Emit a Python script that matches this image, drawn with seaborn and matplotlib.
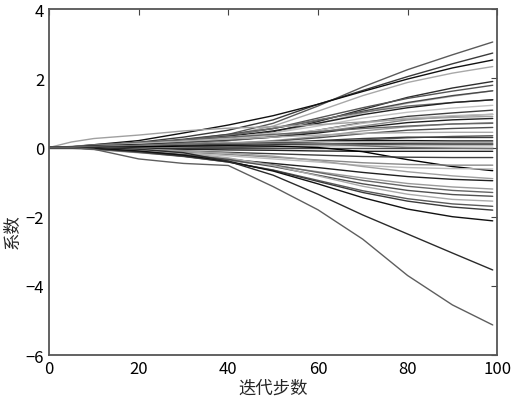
import numpy as np
import pandas as pd
import matplotlib
matplotlib.use("Agg")
import matplotlib.pyplot as plt
import seaborn as sns

steps = [0, 5, 10, 20, 30, 40, 50, 60, 70, 80, 90, 99]

# coefficients that grow positive
rising_paths = [
    [0, 0, 0.02, 0.10, 0.22, 0.38, 0.70, 1.20, 1.75, 2.25, 2.68, 3.05],
    [0, 0, 0.03, 0.15, 0.30, 0.50, 0.80, 1.25, 1.65, 2.05, 2.42, 2.73],
    [0, 0.02, 0.08, 0.20, 0.42, 0.65, 0.92, 1.25, 1.62, 1.98, 2.30, 2.53],
    [0, 0, 0.02, 0.10, 0.20, 0.35, 0.62, 1.05, 1.50, 1.88, 2.15, 2.34],
    [0, 0, 0, 0.05, 0.12, 0.25, 0.45, 0.75, 1.10, 1.45, 1.72, 1.91],
    [0, 0.01, 0.05, 0.12, 0.22, 0.35, 0.55, 0.85, 1.15, 1.42, 1.63, 1.80],
    [0, 0, 0.02, 0.08, 0.15, 0.25, 0.42, 0.70, 1.00, 1.28, 1.48, 1.64],
    [0, 0.01, 0.04, 0.12, 0.24, 0.38, 0.55, 0.78, 1.05, 1.30, 1.50, 1.64],
    [0, 0, 0.03, 0.10, 0.20, 0.35, 0.55, 0.80, 1.02, 1.20, 1.30, 1.38],
    [0, 0, 0.03, 0.10, 0.20, 0.32, 0.48, 0.70, 0.95, 1.15, 1.30, 1.38],
    [0, 0.02, 0.06, 0.12, 0.20, 0.30, 0.42, 0.62, 0.85, 1.02, 1.14, 1.22],
    [0, 0, 0.01, 0.05, 0.10, 0.20, 0.32, 0.50, 0.72, 0.90, 1.00, 1.08],
    [0, 0, 0.02, 0.06, 0.12, 0.20, 0.30, 0.45, 0.62, 0.80, 0.90, 0.96],
    [0, 0, 0.02, 0.08, 0.16, 0.25, 0.35, 0.50, 0.70, 0.85, 0.92, 0.96],
    [0, 0.16, 0.26, 0.36, 0.48, 0.56, 0.60, 0.66, 0.74, 0.82, 0.87, 0.90],
    [0, 0.01, 0.04, 0.10, 0.16, 0.22, 0.30, 0.42, 0.58, 0.72, 0.80, 0.84],
    [0, 0, 0.02, 0.05, 0.08, 0.12, 0.20, 0.32, 0.48, 0.60, 0.68, 0.72],
    [0, 0.03, 0.08, 0.15, 0.22, 0.30, 0.38, 0.46, 0.55, 0.62, 0.68, 0.70],
    [0, 0, 0.01, 0.04, 0.08, 0.12, 0.18, 0.28, 0.40, 0.50, 0.55, 0.58],
    [0, 0.02, 0.05, 0.12, 0.18, 0.24, 0.30, 0.36, 0.41, 0.43, 0.44, 0.44],
]

# coefficients that stay close to zero
flat_paths = [
    [0, 0, 0.01, 0.03, 0.05, 0.08, 0.12, 0.16, 0.22, 0.28, 0.32, 0.34],
    [0, 0, 0.01, 0.03, 0.06, 0.10, 0.14, 0.20, 0.26, 0.30, 0.29, 0.29],
    [0, 0.02, 0.05, 0.08, 0.10, 0.12, 0.15, 0.18, 0.20, 0.20, 0.19, 0.19],
    [0, 0.01, 0.03, 0.06, 0.10, 0.14, 0.17, 0.17, 0.16, 0.15, 0.15, 0.15],
    [0, 0, 0, 0.02, 0.04, 0.06, 0.08, 0.10, 0.11, 0.11, 0.10, 0.10],
    [0, -0.01, -0.02, -0.02, -0.01, 0.00, 0.02, 0.05, 0.08, 0.10, 0.10, 0.10],
    [0, 0, 0.01, 0.02, 0.03, 0.04, 0.05, 0.05, 0.05, 0.05, 0.05, 0.05],
    [0, 0, 0, 0, 0, 0, 0, 0, 0, 0, 0, 0],
    [0, 0, 0.02, 0.06, 0.10, 0.12, 0.12, 0.10, 0.05, 0.00, -0.02, -0.03],
    [0, 0, -0.01, -0.03, -0.05, -0.07, -0.08, -0.10, -0.11, -0.11, -0.11, -0.11],
    [0, 0, 0, 0.02, 0.04, 0.05, 0.04, 0.00, -0.12, -0.35, -0.55, -0.67],
]

# coefficients that grow negative
falling_paths = [
    [0, -0.01, -0.03, -0.06, -0.10, -0.14, -0.18, -0.22, -0.26, -0.28, -0.29, -0.29],
    [0, 0, -0.02, -0.08, -0.14, -0.20, -0.28, -0.36, -0.44, -0.49, -0.51, -0.51],
    [0, -0.02, -0.05, -0.10, -0.16, -0.24, -0.33, -0.42, -0.52, -0.58, -0.61, -0.62],
    [0, 0, 0, -0.04, -0.10, -0.16, -0.25, -0.38, -0.55, -0.70, -0.82, -0.90],
    [0, 0, -0.03, -0.12, -0.22, -0.34, -0.46, -0.58, -0.72, -0.84, -0.92, -0.96],
    [0, -0.02, -0.06, -0.15, -0.25, -0.38, -0.52, -0.70, -0.88, -1.04, -1.14, -1.20],
    [0, 0, -0.02, -0.10, -0.20, -0.32, -0.50, -0.72, -0.95, -1.12, -1.24, -1.30],
    [0, -0.01, -0.04, -0.12, -0.22, -0.35, -0.55, -0.80, -1.05, -1.24, -1.36, -1.41],
    [0, 0, -0.02, -0.08, -0.16, -0.30, -0.52, -0.82, -1.12, -1.35, -1.50, -1.55],
    [0, -0.01, -0.04, -0.14, -0.26, -0.42, -0.65, -0.95, -1.25, -1.48, -1.63, -1.70],
    [0, 0, -0.03, -0.12, -0.25, -0.42, -0.66, -0.98, -1.30, -1.55, -1.72, -1.81],
    [0, 0, -0.02, -0.10, -0.22, -0.40, -0.68, -1.05, -1.45, -1.78, -2.00, -2.12],
    [0, 0, 0, -0.05, -0.15, -0.40, -0.80, -1.35, -1.95, -2.50, -3.05, -3.54],
    [0, 0, -0.05, -0.33, -0.46, -0.52, -1.13, -1.80, -2.65, -3.70, -4.55, -5.13],
]

# gray shades for the lines (cycled), plus a few picked for single lines
shades = ["#5a5a5a", "#3a3a3a", "#111111", "#a8a8a8", "#2e2e2e", "#555555",
          "#b4b4b4", "#484848", "#6e6e6e", "#222222", "#c2c2c2", "#404040",
          "#8a8a8a", "#bbbbbb", "#a0a0a0", "#202020", "#9a9a9a", "#666666",
          "#505050", "#aaaaaa"]

paths = rising_paths + flat_paths + falling_paths
rows = []
for i, p in enumerate(paths):
    for s, v in zip(steps, p):
        rows.append({"step": s, "coef": v, "var": i})
df = pd.DataFrame(rows)

palette = {i: shades[i % len(shades)] for i in range(len(paths))}
palette[len(rising_paths) + len(flat_paths) - 1] = "#000000"
palette[len(paths) - 2] = "#2a2a2a"
palette[len(paths) - 1] = "#5e5e5e"

sns.set_style("white")
plt.rcParams["font.family"] = ["Liberation Sans Narrow", "Noto Sans CJK SC", "DejaVu Sans"]
plt.rcParams["xtick.direction"] = "in"
plt.rcParams["ytick.direction"] = "in"

fig = plt.figure(figsize=(5.11, 4.06), dpi=100)
ax = fig.add_axes([0.096, 0.123, 0.877, 0.852])
sns.lineplot(data=df, x="step", y="coef", hue="var", palette=palette,
             estimator=None, legend=False, linewidth=1.0, ax=ax)

ax.set_xlim(0, 100)
ax.set_ylim(-6, 4)
ax.set_xticks([0, 20, 40, 60, 80, 100])
ax.set_yticks([-6, -4, -2, 0, 2, 4])
ax.tick_params(top=True, right=True, length=4, width=0.8, colors="#444444",
               labelcolor="black", labelsize=12)
for sp in ax.spines.values():
    sp.set_color("#555555")
    sp.set_linewidth(1.3)
ax.set_xlabel("迭代步数", fontsize=12.5, labelpad=1)
ax.set_ylabel("系数", fontsize=12.5)
ax.yaxis.set_label_coords(-0.062, 0.36)

plt.savefig("out.png", dpi=100)
